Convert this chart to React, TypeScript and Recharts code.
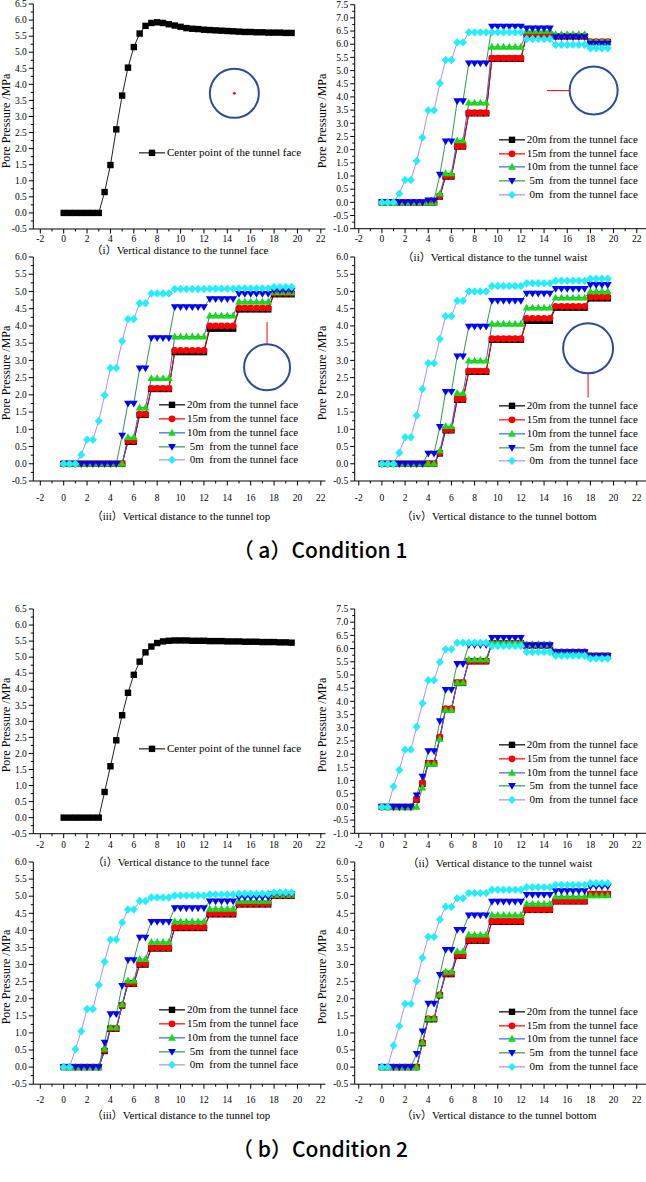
import React from 'react';
import { LineChart, Line, XAxis, YAxis, Legend, ReferenceDot, ReferenceLine } from 'recharts';

// distance from the tunnel face (m), shared by every curve
const DIST = [0, 0.5, 1, 1.5, 2, 2.5, 3, 3.5, 4, 4.5, 5, 5.5, 6, 6.5, 7, 7.5, 8, 8.5, 9, 9.5,
  10, 10.5, 11, 11.5, 12, 12.5, 13, 13.5, 14, 14.5, 15, 15.5, 16, 16.5, 17, 17.5, 18, 18.5, 19, 19.5];

const X_TICKS = [-2, 0, 2, 4, 6, 8, 10, 12, 14, 16, 18, 20, 22];
const Y_TICKS_65 = [-0.5, 0, 0.5, 1, 1.5, 2, 2.5, 3, 3.5, 4, 4.5, 5, 5.5, 6, 6.5];
const Y_TICKS_75 = [-1, -0.5, 0, 0.5, 1, 1.5, 2, 2.5, 3, 3.5, 4, 4.5, 5, 5.5, 6, 6.5, 7, 7.5];
const Y_TICKS_60 = [-0.5, 0, 0.5, 1, 1.5, 2, 2.5, 3, 3.5, 4, 4.5, 5, 5.5, 6];

// ---- Condition 1 ----
const A1_CENTER = [0, 0, 0, 0, 0, 0, 0, 0.65, 1.49, 2.6,
  3.65, 4.52, 5.16, 5.58, 5.82, 5.91, 5.93, 5.91, 5.87, 5.83,
  5.79, 5.75, 5.73, 5.72, 5.7, 5.69, 5.68, 5.67, 5.66, 5.65,
  5.64, 5.63, 5.63, 5.62, 5.62, 5.61, 5.61, 5.61, 5.6, 5.6];

const A2_20 = [0, 0, 0, 0, 0, 0, 0, 0, 0, 0,
  0.22, 0.98, 0.98, 2.12, 2.12, 3.38, 3.38, 3.38, 3.38, 5.45,
  5.45, 5.45, 5.45, 5.45, 5.45, 6.35, 6.35, 6.35, 6.35, 6.35,
  6.3, 6.3, 6.3, 6.3, 6.3, 6.3, 6.08, 6.08, 6.08, 6.08];
const A2_15 = [0, 0, 0, 0, 0, 0, 0, 0, 0, 0,
  0.25, 1.0, 1.0, 2.14, 2.14, 3.4, 3.4, 3.4, 3.4, 5.47,
  5.47, 5.47, 5.47, 5.47, 5.47, 6.38, 6.38, 6.38, 6.38, 6.38,
  6.32, 6.32, 6.32, 6.32, 6.32, 6.32, 6.1, 6.1, 6.1, 6.1];
const A2_10 = [0, 0, 0, 0, 0, 0, 0, 0, 0, 0,
  0.33, 1.1, 1.1, 2.35, 2.35, 3.78, 3.78, 3.78, 3.78, 5.9,
  5.9, 5.9, 5.9, 5.9, 5.9, 6.5, 6.5, 6.5, 6.5, 6.5,
  6.38, 6.38, 6.38, 6.38, 6.38, 6.38, 6.1, 6.1, 6.1, 6.1];
const A2_5 = [0, 0, 0, 0, 0, 0, 0, 0, 0.08, 0.08,
  1.05, 2.32, 2.32, 3.84, 3.84, 5.28, 5.28, 5.28, 5.28, 6.67,
  6.67, 6.67, 6.67, 6.67, 6.67, 6.6, 6.6, 6.6, 6.6, 6.6,
  6.27, 6.27, 6.27, 6.27, 6.27, 6.27, 6.03, 6.03, 6.03, 6.03];
const A2_0 = [0, 0, 0, 0.33, 0.85, 0.85, 1.57, 2.46, 3.49, 3.49,
  4.52, 5.4, 5.4, 6.07, 6.07, 6.45, 6.45, 6.45, 6.45, 6.45,
  6.45, 6.45, 6.45, 6.45, 6.45, 6.2, 6.2, 6.2, 6.2, 6.2,
  5.98, 5.98, 5.98, 5.98, 5.98, 5.98, 5.85, 5.85, 5.85, 5.85];

const A3_20 = [0, 0, 0, 0, 0, 0, 0, 0, 0, 0,
  0, 0.64, 0.64, 1.42, 1.42, 2.17, 2.17, 2.17, 2.17, 3.24,
  3.24, 3.24, 3.24, 3.24, 3.24, 3.92, 3.92, 3.92, 3.92, 3.92,
  4.48, 4.48, 4.48, 4.48, 4.48, 4.48, 4.92, 4.92, 4.92, 4.92];
const A3_15 = [0, 0, 0, 0, 0, 0, 0, 0, 0, 0,
  0, 0.67, 0.67, 1.44, 1.44, 2.19, 2.19, 2.19, 2.19, 3.29,
  3.29, 3.29, 3.29, 3.29, 3.29, 4.0, 4.0, 4.0, 4.0, 4.0,
  4.52, 4.52, 4.52, 4.52, 4.52, 4.52, 4.95, 4.95, 4.95, 4.95];
const A3_10 = [0, 0, 0, 0, 0, 0, 0, 0, 0, 0,
  0, 0.77, 0.77, 1.63, 1.63, 2.48, 2.48, 2.48, 2.48, 3.69,
  3.69, 3.69, 3.69, 3.69, 3.69, 4.3, 4.3, 4.3, 4.3, 4.3,
  4.7, 4.7, 4.7, 4.7, 4.7, 4.7, 4.98, 4.98, 4.98, 4.98];
const A3_5 = [0, 0, 0, 0, 0, 0, 0, 0, 0, 0,
  0.82, 1.75, 1.75, 2.77, 2.77, 3.65, 3.65, 3.65, 3.65, 4.55,
  4.55, 4.55, 4.55, 4.55, 4.55, 4.78, 4.78, 4.78, 4.78, 4.78,
  4.93, 4.93, 4.93, 4.93, 4.93, 4.93, 5.03, 5.03, 5.03, 5.03];
const A3_0 = [0, 0, 0, 0.26, 0.7, 0.7, 1.24, 1.99, 2.78, 2.78,
  3.56, 4.2, 4.2, 4.66, 4.66, 4.94, 4.94, 4.94, 4.94, 5.07,
  5.07, 5.07, 5.07, 5.07, 5.07, 5.08, 5.08, 5.08, 5.08, 5.08,
  5.09, 5.09, 5.09, 5.09, 5.09, 5.09, 5.13, 5.13, 5.13, 5.13];

const A4_20 = [0, 0, 0, 0, 0, 0, 0, 0, 0, 0,
  0.3, 0.97, 0.97, 1.86, 1.86, 2.67, 2.67, 2.67, 2.67, 3.6,
  3.6, 3.6, 3.6, 3.6, 3.6, 4.15, 4.15, 4.15, 4.15, 4.15,
  4.53, 4.53, 4.53, 4.53, 4.53, 4.53, 4.8, 4.8, 4.8, 4.8];
const A4_15 = [0, 0, 0, 0, 0, 0, 0, 0, 0, 0,
  0.32, 0.99, 0.99, 1.88, 1.88, 2.69, 2.69, 2.69, 2.69, 3.63,
  3.63, 3.63, 3.63, 3.63, 3.63, 4.22, 4.22, 4.22, 4.22, 4.22,
  4.57, 4.57, 4.57, 4.57, 4.57, 4.57, 4.84, 4.84, 4.84, 4.84];
const A4_10 = [0, 0, 0, 0, 0, 0, 0, 0, 0, 0,
  0.38, 1.09, 1.09, 2.05, 2.05, 2.99, 2.99, 2.99, 2.99, 4.06,
  4.06, 4.06, 4.06, 4.06, 4.06, 4.53, 4.53, 4.53, 4.53, 4.53,
  4.82, 4.82, 4.82, 4.82, 4.82, 4.82, 5.0, 5.0, 5.0, 5.0];
const A4_5 = [0, 0, 0, 0, 0, 0, 0, 0, 0.3, 0.3,
  1.07, 2.09, 2.09, 3.12, 3.12, 3.98, 3.98, 3.98, 3.98, 4.73,
  4.73, 4.73, 4.73, 4.73, 4.73, 4.94, 4.94, 4.94, 4.94, 4.94,
  5.08, 5.08, 5.08, 5.08, 5.08, 5.08, 5.19, 5.19, 5.19, 5.19];
const A4_0 = [0, 0, 0, 0.32, 0.77, 0.77, 1.4, 2.17, 2.92, 2.92,
  3.62, 4.28, 4.28, 4.73, 4.73, 5.0, 5.0, 5.0, 5.0, 5.16,
  5.16, 5.16, 5.16, 5.16, 5.16, 5.24, 5.24, 5.24, 5.24, 5.24,
  5.31, 5.31, 5.31, 5.31, 5.31, 5.31, 5.37, 5.37, 5.37, 5.37];

// ---- Condition 2 ----
const B1_CENTER = [0, 0, 0, 0, 0, 0, 0, 0.8, 1.6, 2.41,
  3.19, 3.89, 4.45, 4.86, 5.15, 5.33, 5.44, 5.49, 5.51, 5.52,
  5.52, 5.52, 5.51, 5.51, 5.51, 5.5, 5.5, 5.5, 5.49, 5.49,
  5.49, 5.48, 5.48, 5.48, 5.47, 5.47, 5.47, 5.46, 5.46, 5.45];

const B2_20 = [0, 0, 0, 0, 0, 0, 0.28, 0.88, 1.65, 1.65,
  2.62, 3.7, 3.7, 4.7, 4.7, 5.52, 5.52, 5.52, 5.52, 6.2,
  6.2, 6.2, 6.2, 6.2, 6.2, 6.12, 6.12, 6.12, 6.12, 6.12,
  5.86, 5.86, 5.86, 5.86, 5.86, 5.86, 5.72, 5.72, 5.72, 5.72];
const B2_15 = [0, 0, 0, 0, 0, 0, 0.3, 0.9, 1.66, 1.66,
  2.65, 3.72, 3.72, 4.72, 4.72, 5.53, 5.53, 5.53, 5.53, 6.22,
  6.22, 6.22, 6.22, 6.22, 6.22, 6.14, 6.14, 6.14, 6.14, 6.14,
  5.87, 5.87, 5.87, 5.87, 5.87, 5.87, 5.73, 5.73, 5.73, 5.73];
const B2_10 = [0, 0, 0, 0, 0, 0, 0, 0.73, 1.63, 1.63,
  2.58, 3.67, 3.67, 4.71, 4.71, 5.59, 5.59, 5.59, 5.59, 6.26,
  6.26, 6.26, 6.26, 6.26, 6.26, 6.16, 6.16, 6.16, 6.16, 6.16,
  5.87, 5.87, 5.87, 5.87, 5.87, 5.87, 5.73, 5.73, 5.73, 5.73];
const B2_5 = [0, 0, 0, 0, 0, 0, 0.44, 1.15, 2.12, 2.12,
  3.25, 4.44, 4.44, 5.42, 5.42, 6.14, 6.14, 6.14, 6.14, 6.41,
  6.41, 6.41, 6.41, 6.41, 6.41, 6.12, 6.12, 6.12, 6.12, 6.12,
  5.87, 5.87, 5.87, 5.87, 5.87, 5.87, 5.72, 5.72, 5.72, 5.72];
const B2_0 = [0, 0, 0.77, 1.4, 2.17, 2.17, 3.04, 3.93, 4.8, 4.8,
  5.49, 5.97, 5.97, 6.22, 6.22, 6.22, 6.22, 6.22, 6.22, 6.1,
  6.1, 6.1, 6.1, 6.1, 6.1, 5.87, 5.87, 5.87, 5.87, 5.87,
  5.73, 5.73, 5.73, 5.73, 5.73, 5.73, 5.62, 5.62, 5.62, 5.62];

const B3_20 = [0, 0, 0, 0, 0, 0, 0, 0.47, 1.12, 1.12,
  1.8, 2.44, 2.44, 3.0, 3.0, 3.47, 3.47, 3.47, 3.47, 4.07,
  4.07, 4.07, 4.07, 4.07, 4.07, 4.47, 4.47, 4.47, 4.47, 4.47,
  4.76, 4.76, 4.76, 4.76, 4.76, 4.76, 5.01, 5.01, 5.01, 5.01];
const B3_15 = [0, 0, 0, 0, 0, 0, 0, 0.49, 1.13, 1.13,
  1.81, 2.45, 2.45, 3.02, 3.02, 3.49, 3.49, 3.49, 3.49, 4.09,
  4.09, 4.09, 4.09, 4.09, 4.09, 4.49, 4.49, 4.49, 4.49, 4.49,
  4.78, 4.78, 4.78, 4.78, 4.78, 4.78, 5.02, 5.02, 5.02, 5.02];
const B3_10 = [0, 0, 0, 0, 0, 0, 0, 0.53, 1.16, 1.16,
  1.83, 2.53, 2.53, 3.16, 3.16, 3.66, 3.66, 3.66, 3.66, 4.26,
  4.26, 4.26, 4.26, 4.26, 4.26, 4.63, 4.63, 4.63, 4.63, 4.63,
  4.86, 4.86, 4.86, 4.86, 4.86, 4.86, 5.04, 5.04, 5.04, 5.04];
const B3_5 = [0, 0, 0, 0, 0, 0, 0, 0.72, 1.55, 1.55,
  2.38, 3.13, 3.13, 3.79, 3.79, 4.25, 4.25, 4.25, 4.25, 4.65,
  4.65, 4.65, 4.65, 4.65, 4.65, 4.85, 4.85, 4.85, 4.85, 4.85,
  4.97, 4.97, 4.97, 4.97, 4.97, 4.97, 5.07, 5.07, 5.07, 5.07];
const B3_0 = [0, 0, 0.52, 1.05, 1.7, 1.7, 2.4, 3.08, 3.73, 3.73,
  4.23, 4.61, 4.61, 4.86, 4.86, 4.96, 4.96, 4.96, 4.96, 5.02,
  5.02, 5.02, 5.02, 5.02, 5.02, 5.05, 5.05, 5.05, 5.05, 5.05,
  5.07, 5.07, 5.07, 5.07, 5.07, 5.07, 5.11, 5.11, 5.11, 5.11];

const B4_20 = [0, 0, 0, 0, 0, 0, 0, 0.7, 1.4, 1.4,
  2.1, 2.72, 2.72, 3.26, 3.26, 3.7, 3.7, 3.7, 3.7, 4.25,
  4.25, 4.25, 4.25, 4.25, 4.25, 4.6, 4.6, 4.6, 4.6, 4.6,
  4.85, 4.85, 4.85, 4.85, 4.85, 4.85, 5.05, 5.05, 5.05, 5.05];
const B4_15 = [0, 0, 0, 0, 0, 0, 0, 0.72, 1.42, 1.42,
  2.12, 2.74, 2.74, 3.28, 3.28, 3.72, 3.72, 3.72, 3.72, 4.27,
  4.27, 4.27, 4.27, 4.27, 4.27, 4.61, 4.61, 4.61, 4.61, 4.61,
  4.86, 4.86, 4.86, 4.86, 4.86, 4.86, 5.07, 5.07, 5.07, 5.07];
const B4_10 = [0, 0, 0, 0, 0, 0, 0, 0.72, 1.42, 1.42,
  2.12, 2.79, 2.79, 3.39, 3.39, 3.87, 3.87, 3.87, 3.87, 4.45,
  4.45, 4.45, 4.45, 4.45, 4.45, 4.78, 4.78, 4.78, 4.78, 4.78,
  4.99, 4.99, 4.99, 4.99, 4.99, 4.99, 5.02, 5.02, 5.02, 5.02];
const B4_5 = [0, 0, 0, 0, 0, 0, 0.39, 1.05, 1.86, 1.86,
  2.7, 3.43, 3.43, 4.02, 4.02, 4.44, 4.44, 4.44, 4.44, 4.84,
  4.84, 4.84, 4.84, 4.84, 4.84, 5.04, 5.04, 5.04, 5.04, 5.04,
  5.15, 5.15, 5.15, 5.15, 5.15, 5.15, 5.28, 5.28, 5.28, 5.28];
const B4_0 = [0, 0, 0.63, 1.2, 1.85, 1.85, 2.52, 3.2, 3.81, 3.81,
  4.32, 4.69, 4.69, 4.94, 4.94, 5.09, 5.09, 5.09, 5.09, 5.19,
  5.19, 5.19, 5.19, 5.19, 5.19, 5.26, 5.26, 5.26, 5.26, 5.26,
  5.33, 5.33, 5.33, 5.33, 5.33, 5.33, 5.38, 5.38, 5.38, 5.38];

const SERIF = '"Liberation Serif", "Times New Roman", "Noto Sans CJK SC", serif';

type Shape = 'square' | 'circle' | 'up' | 'down' | 'diamond';
type Style = { key: string; name: string; line: string; mark: string; shape: Shape };

const CENTER_STYLE: Style = { key: 'c', name: 'Center point of the tunnel face', line: '#222', mark: '#000', shape: 'square' };
const STYLES: Style[] = [
  { key: 'd20', name: '20m from the tunnel face', line: '#000000', mark: '#000000', shape: 'square' },
  { key: 'd15', name: '15m from the tunnel face', line: '#ff0000', mark: '#ff0000', shape: 'circle' },
  { key: 'd10', name: '10m from the tunnel face', line: '#2f66f0', mark: '#14dc14', shape: 'up' },
  { key: 'd5', name: ' 5m  from the tunnel face', line: '#2e9a48', mark: '#0000ff', shape: 'down' },
  { key: 'd0', name: ' 0m  from the tunnel face', line: '#b68af0', mark: '#22eeff', shape: 'diamond' },
];

function Marker({ cx, cy, shape, color }: { cx: number; cy: number; shape: Shape; color: string }) {
  if (cx == null || cy == null) return null;
  if (shape === 'square') return <rect x={cx - 3.2} y={cy - 3.2} width={6.4} height={6.4} fill={color} />;
  if (shape === 'circle') return <circle cx={cx} cy={cy} r={3.4} fill={color} />;
  if (shape === 'up') return <polygon points={`${cx},${cy - 4} ${cx - 3.9},${cy + 2.8} ${cx + 3.9},${cy + 2.8}`} fill={color} />;
  if (shape === 'down') return <polygon points={`${cx - 3.9},${cy - 2.8} ${cx + 3.9},${cy - 2.8} ${cx},${cy + 4}`} fill={color} />;
  return <polygon points={`${cx},${cy - 4.2} ${cx + 4},${cy} ${cx},${cy + 4.2} ${cx - 4},${cy}`} fill={color} />;
}

const withMinor = (major: number[]) => {
  const out: number[] = [];
  major.forEach((v, i) => {
    out.push(v);
    if (i < major.length - 1) out.push((v + major[i + 1]) / 2);
  });
  return out;
};

const YTick = (props: any) => {
  const { x, y, payload, majors } = props;
  const major = majors.includes(payload.value);
  return (
    <g>
      <line x1={x - (major ? 4.5 : 2.5)} x2={x} y1={y} y2={y} stroke="#000" />
      {major && (
        <text x={x - 6.5} y={y} dy="0.34em" textAnchor="end" fontSize={9.5} fontFamily={SERIF} fill="#000">
          {payload.value.toFixed(1)}
        </text>
      )}
    </g>
  );
};

const XTick = (props: any) => {
  const { x, y, payload, off } = props;
  const major = X_TICKS.includes(payload.value);
  return (
    <g>
      <line x1={x} x2={x} y1={y} y2={y + (major ? 4.5 : 2.5)} stroke="#000" />
      {major && (
        <text x={x} y={y + off} dy="0.34em" textAnchor="middle" fontSize={9.5} fontFamily={SERIF} fill="#000">
          {payload.value}
        </text>
      )}
    </g>
  );
};

function LegendBox({ items }: { items: Style[] }) {
  const rowH = 13.7;
  return (
    <div style={{ fontFamily: SERIF, fontSize: 11, color: '#000' }}>
      {items.map((s) => (
        <div key={s.key} style={{ display: 'flex', alignItems: 'center', height: rowH, whiteSpace: 'pre' }}>
          <svg width={26} height={rowH} style={{ display: 'block' }}>
            <line x1={0} x2={26} y1={rowH / 2} y2={rowH / 2} stroke={s.line} strokeWidth={1.2} />
            <Marker cx={13} cy={rowH / 2} shape={s.shape} color={s.mark} />
          </svg>
          <span style={{ marginLeft: 2, lineHeight: `${rowH}px`, fontFamily: SERIF, fontSize: 11 }}>{s.name}</span>
        </div>
      ))}
    </div>
  );
}

const PLOT_L = { boxL: 0, boxR: 330, px0: 33.3, px1: 325.5, domain: [-2.6, 22.4] };
const PLOT_R = { boxL: 323, boxR: 646, px0: 354.7, px1: 646, domain: [-2.35, 22.8] };
const Y_AXIS_W = 25;
const X_AXIS_H = 20;
const CIRCLE_BLUE = '#2b4c9b';

type PanelCfg = {
  side: 'L' | 'R';
  py0: number;
  py1: number;
  yDomain: number[];
  yTicks: number[];
  xOff: number;
  series: { style: Style; values: number[] }[];
  legendX: number;
  legendY: number;
  circle?: { x: number; y: number; r: number };
  centerDot?: boolean;
  arrow?: { x: number; y: number }[];
};

function Panel({ p }: { p: PanelCfg }) {
  const side = p.side === 'L' ? PLOT_L : PLOT_R;
  const boxTop = Math.max(0, p.py0 - 6);
  const boxBottom = p.py1 + 34;
  const width = side.boxR - side.boxL;
  const height = boxBottom - boxTop;
  const margin = {
    top: p.py0 - boxTop,
    bottom: boxBottom - p.py1 - X_AXIS_H,
    left: side.px0 - side.boxL - Y_AXIS_W,
    right: side.boxR - side.px1,
  };
  const rows = DIST.map((x, i) => {
    const r: any = { x };
    p.series.forEach((s) => (r[s.style.key] = s.values[i]));
    return r;
  });
  const items = p.series.map((s) => s.style);
  return (
    <div style={{ position: 'absolute', left: side.boxL, top: boxTop, width, height }}>
      <LineChart width={width} height={height} data={rows} margin={margin}>
        <XAxis
          type="number"
          dataKey="x"
          domain={side.domain}
          ticks={withMinor(X_TICKS)}
          interval={0}
          tickSize={0}
          tickMargin={0}
          tickLine={false}
          height={X_AXIS_H}
          axisLine={{ stroke: '#000', strokeWidth: 1 }}
          tick={(t: any) => <XTick {...t} off={p.xOff} />}
        />
        <YAxis
          type="number"
          domain={p.yDomain}
          ticks={withMinor(p.yTicks)}
          interval={0}
          tickSize={0}
          tickMargin={0}
          tickLine={false}
          width={Y_AXIS_W}
          axisLine={{ stroke: '#000', strokeWidth: 1 }}
          tick={(t: any) => <YTick {...t} majors={p.yTicks} />}
        />
        {p.circle && (
          <ReferenceDot x={p.circle.x} y={p.circle.y} r={p.circle.r} fill="none" stroke={CIRCLE_BLUE} strokeWidth={2} ifOverflow="visible" />
        )}
        {p.circle && p.centerDot && (
          <ReferenceDot x={p.circle.x} y={p.circle.y} r={1.4} fill="#ff0000" stroke="none" ifOverflow="visible" />
        )}
        {p.arrow && <ReferenceLine segment={p.arrow} stroke="#ff0000" strokeWidth={1} ifOverflow="visible" />}
        {p.series.map((s) => (
          <Line
            key={s.style.key}
            type="linear"
            dataKey={s.style.key}
            stroke={s.style.line}
            strokeWidth={1}
            isAnimationActive={false}
            activeDot={false}
            dot={(d: any) => <Marker key={`${s.style.key}-${d.index}`} cx={d.cx} cy={d.cy} shape={s.style.shape} color={s.style.mark} />}
          />
        ))}
        <Legend
          layout="vertical"
          align="center"
          verticalAlign="middle"
          wrapperStyle={{ left: p.legendX - side.boxL, top: p.legendY - 6.85 - boxTop, width: 180 }}
          content={() => <LegendBox items={items} />}
        />
      </LineChart>
    </div>
  );
}

const five = (a: number[][]) => STYLES.map((style, i) => ({ style, values: a[i] }));

const PANELS: PanelCfg[] = [
  { side: 'L', py0: 4, py1: 229, yDomain: [-0.5, 6.5], yTicks: Y_TICKS_65, xOff: 10,
    series: [{ style: CENTER_STYLE, values: A1_CENTER }], legendX: 139, legendY: 153,
    circle: { x: 14.6, y: 3.72, r: 24.5 }, centerDot: true },
  { side: 'R', py0: 4.7, py1: 228.7, yDomain: [-1, 7.5], yTicks: Y_TICKS_75, xOff: 10.5,
    series: five([A2_20, A2_15, A2_10, A2_5, A2_0]), legendX: 498.7, legendY: 139.7,
    circle: { x: 18.28, y: 4.24, r: 24 }, arrow: [{ x: 14.25, y: 4.24 }, { x: 16.2, y: 4.24 }] },
  { side: 'L', py0: 257, py1: 481, yDomain: [-0.5, 6], yTicks: Y_TICKS_60, xOff: 17,
    series: five([A3_20, A3_15, A3_10, A3_5, A3_0]), legendX: 159, legendY: 405.3,
    circle: { x: 17.4, y: 2.8, r: 23 }, arrow: [{ x: 17.4, y: 3.47 }, { x: 17.4, y: 4.11 }] },
  { side: 'R', py0: 257, py1: 481, yDomain: [-0.5, 6], yTicks: Y_TICKS_60, xOff: 17,
    series: five([A4_20, A4_15, A4_10, A4_5, A4_0]), legendX: 498.7, legendY: 406.3,
    circle: { x: 17.8, y: 3.35, r: 25 }, arrow: [{ x: 17.8, y: 2.62 }, { x: 17.8, y: 1.92 }] },
];

const PANELS_B: PanelCfg[] = [
  { side: 'L', py0: 609, py1: 833.7, yDomain: [-0.5, 6.5], yTicks: Y_TICKS_65, xOff: 11.3,
    series: [{ style: CENTER_STYLE, values: B1_CENTER }], legendX: 139, legendY: 749.3 },
  { side: 'R', py0: 609, py1: 833.3, yDomain: [-1, 7.5], yTicks: Y_TICKS_75, xOff: 11.7,
    series: five([B2_20, B2_15, B2_10, B2_5, B2_0]), legendX: 498.7, legendY: 745 },
  { side: 'L', py0: 862.3, py1: 1084.5, yDomain: [-0.5, 6], yTicks: Y_TICKS_60, xOff: 15.5,
    series: five([B3_20, B3_15, B3_10, B3_5, B3_0]), legendX: 159, legendY: 1010.3 },
  { side: 'R', py0: 862.3, py1: 1084.5, yDomain: [-0.5, 6], yTicks: Y_TICKS_60, xOff: 15.5,
    series: five([B4_20, B4_15, B4_10, B4_5, B4_0]), legendX: 498.7, legendY: 1011.7 },
];

const CAPTIONS = [
  { text: '（i）Vertical distance to the tunnel face', x: 180, y: 249 },
  { text: '（ii）Vertical distance to the tunnel waist', x: 495, y: 256 },
  { text: '（iii）Vertical distance to the tunnel top', x: 181, y: 515 },
  { text: '（iv）Vertical distance to the tunnel bottom', x: 499, y: 515 },
  { text: '（i）Vertical distance to the tunnel face', x: 181, y: 861 },
  { text: '（ii）Vertical distance to the tunnel waist', x: 500, y: 862 },
  { text: '（iii）Vertical distance to the tunnel top', x: 181, y: 1114 },
  { text: '（iv）Vertical distance to the tunnel bottom', x: 499, y: 1114 },
];

const TITLES = [
  { text: '（ a）Condition 1', x: 320, y: 549 },
  { text: '（ b）Condition 2', x: 320, y: 1148 },
];

export default function App() {
  const all = [...PANELS, ...PANELS_B];
  return (
    <div style={{ position: 'absolute', left: 0, top: 0, width: 646, height: 1182, background: '#fff', overflow: 'hidden' }}>
      {all.map((p, i) => (
        <Panel key={i} p={p} />
      ))}
      {all.map((p, i) => (
        <div
          key={`yl${i}`}
          style={{
            position: 'absolute',
            left: p.side === 'L' ? 6 : 322,
            top: (p.py0 + p.py1) / 2 + 4,
            transform: 'translate(-50%, -50%) rotate(-90deg)',
            whiteSpace: 'nowrap',
            fontFamily: SERIF,
            fontSize: 12,
            color: '#000',
          }}
        >
          Pore Pressure /MPa
        </div>
      ))}
      {CAPTIONS.map((c, i) => (
        <div
          key={`c${i}`}
          style={{ position: 'absolute', left: c.x, top: c.y, transform: 'translate(-50%, -50%)', whiteSpace: 'nowrap', fontFamily: SERIF, fontSize: 11, color: '#000' }}
        >
          {c.text}
        </div>
      ))}
      {TITLES.map((t, i) => (
        <div
          key={`t${i}`}
          style={{ position: 'absolute', left: t.x, top: t.y, transform: 'translate(-50%, -50%)', whiteSpace: 'nowrap', fontFamily: '"Noto Sans CJK JP", "Noto Sans", sans-serif', fontSize: 21, fontWeight: 500, color: '#000' }}
        >
          {t.text}
        </div>
      ))}
    </div>
  );
}
